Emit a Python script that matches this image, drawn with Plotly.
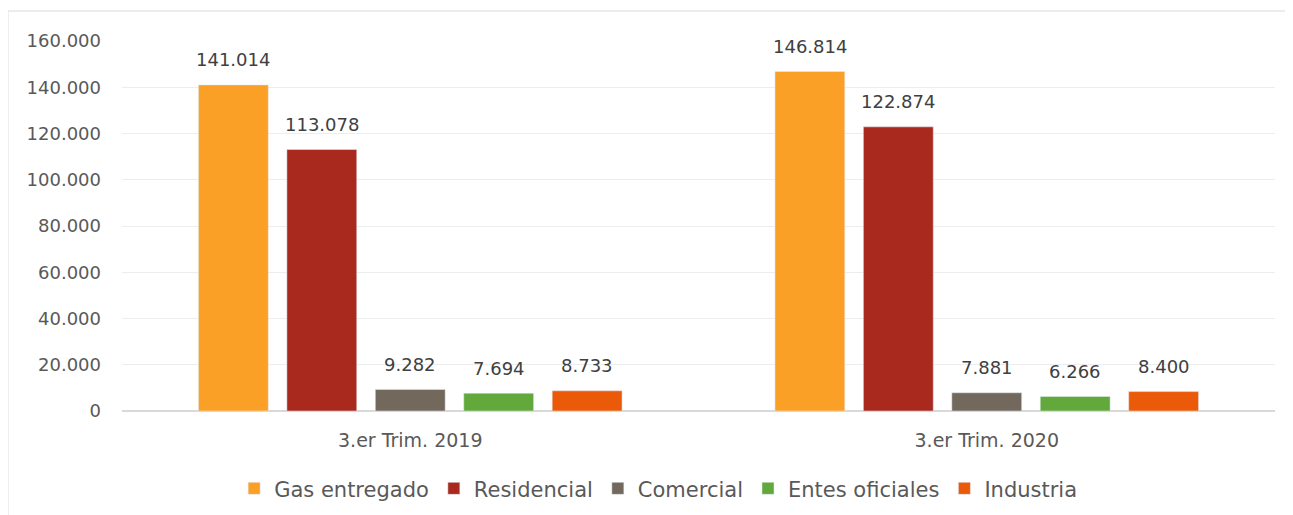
import plotly.graph_objects as go

# datos
periodos = ['3.er Trim. 2019', '3.er Trim. 2020']
series = ['Gas entregado', 'Residencial', 'Comercial', 'Entes oficiales', 'Industria']
gas_entregado = [141014, 146814]
residencial = [113078, 122874]
comercial = [9282, 7881]
entes_oficiales = [7694, 6266]
industria = [8733, 8400]
tick_vals = [0, 20000, 40000, 60000, 80000, 100000, 120000, 140000, 160000]

valores = [gas_entregado, residencial, comercial, entes_oficiales, industria]
colores = ['#FBA026', '#A9291F', '#72685C', '#63A83A', '#EB5A09']

fig = go.Figure()
for nombre, vals, color in zip(series, valores, colores):
    fig.add_trace(go.Bar(
        x=periodos,
        y=vals,
        name=nombre,
        marker=dict(color=color),
    ))

# etiquetas de datos (Excel las pone algo más arriba que plotly)
paso = 88.5  # separación entre barras en px
for i, vals in enumerate(valores):
    for p, v in zip(periodos, vals):
        fig.add_annotation(
            x=p, y=v, xref='x', yref='y',
            text=f"{v:,}".replace(',', '.'),
            showarrow=False, xshift=(i - 2) * paso, yshift=25,
            yanchor='middle',
            font=dict(size=18, color='#404040'),
        )

# marco del gráfico
fig.add_shape(type='rect', xref='paper', yref='paper',
              x0=-0.0989, x1=1.2, y0=-0.4, y1=1.081,
              line=dict(color='#D9D9D9', width=1), layer='below')

fig.update_layout(
    width=1285, height=507,
    margin=dict(l=114, r=18, t=33, b=104, autoexpand=False),
    paper_bgcolor='white',
    plot_bgcolor='white',
    separators=',.',
    barmode='group',
    bargap=0.233,
    bargroupgap=0.21,
    font=dict(family='DejaVu Sans', size=18, color='#595959'),
    showlegend=True,
    legend=dict(orientation='h', x=0.465, xanchor='center', y=-0.21, yanchor='middle',
                font=dict(size=21, color='#595959'), itemwidth=30),
)
fig.update_yaxes(range=[0, 160000], tickvals=tick_vals, tickformat=',.0f',
                 showgrid=True, gridcolor='#EDEDED', gridwidth=1,
                 zeroline=True, zerolinecolor='#D9D9D9', zerolinewidth=1.5,
                 showline=False, ticks='', ticklabelstandoff=20,
                 tickfont=dict(size=18), automargin=False)
fig.update_xaxes(showline=False, ticks='', tickfont=dict(size=19),
                 ticklabelstandoff=16, automargin=False)

fig.write_html("out.html")
